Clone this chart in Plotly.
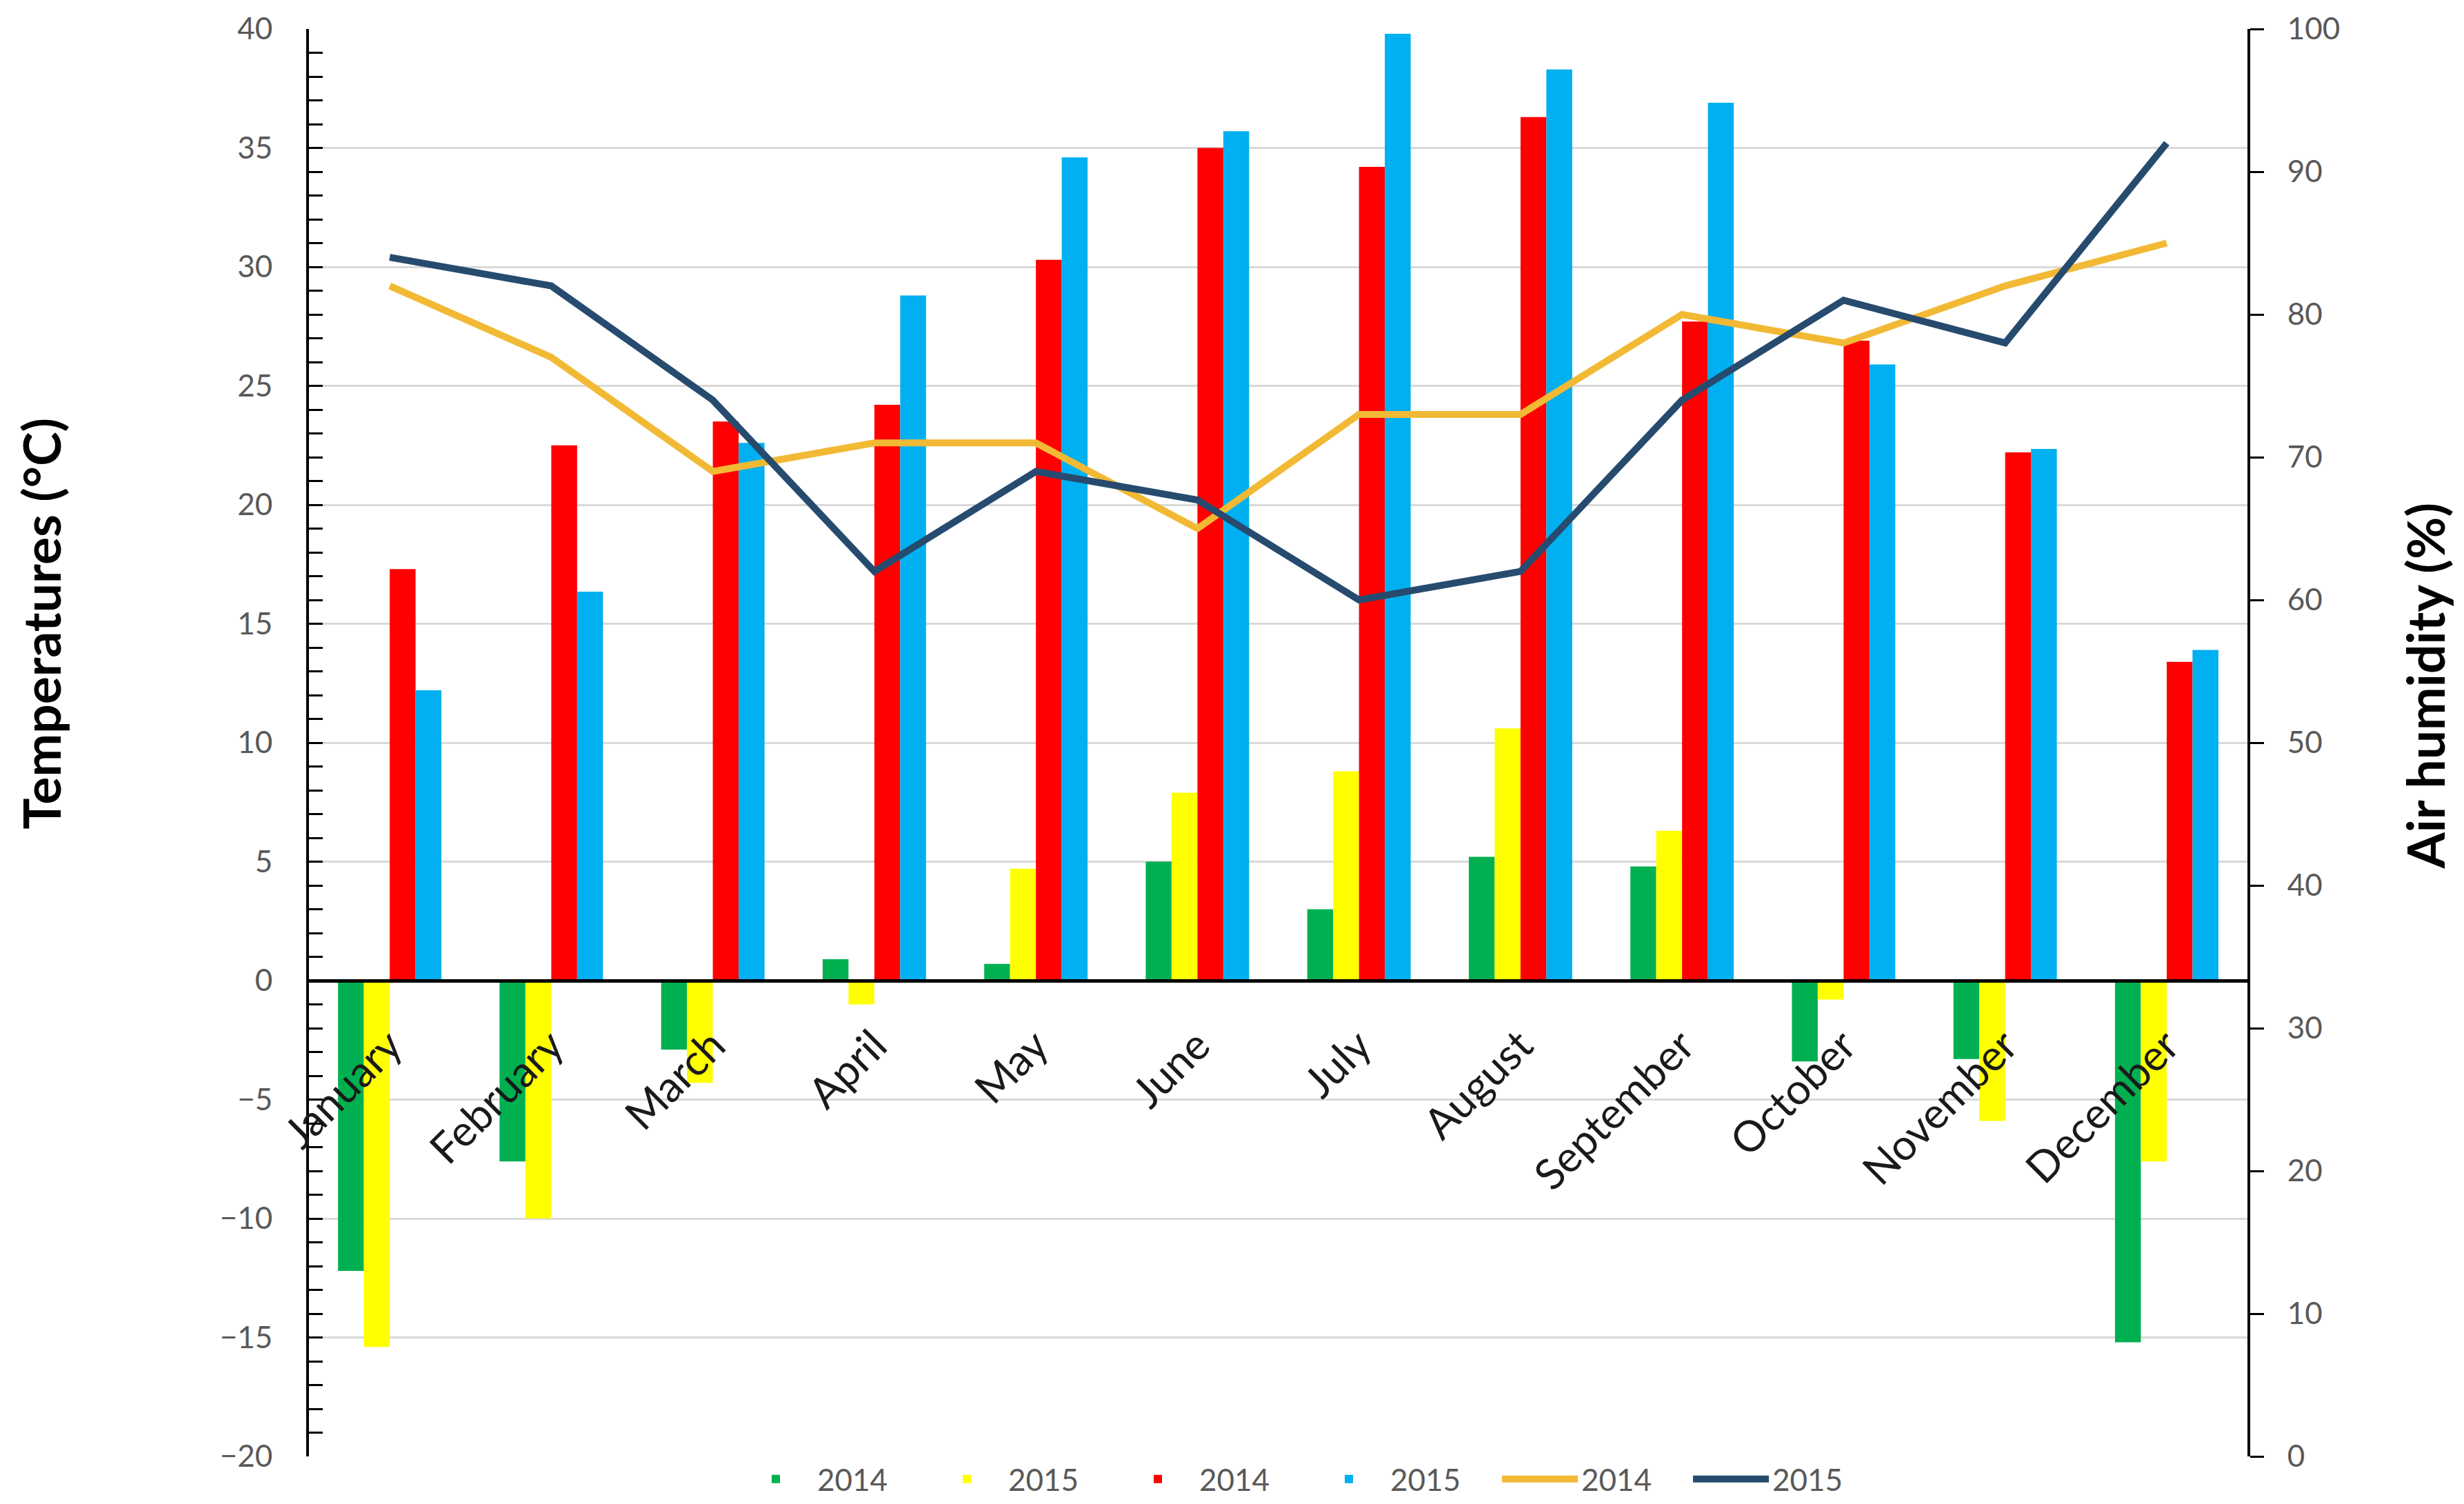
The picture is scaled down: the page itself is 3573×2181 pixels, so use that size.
import plotly.graph_objects as go

months = ["January", "February", "March", "April", "May", "June", "July",
          "August", "September", "October", "November", "December"]

# Bars (temperatures, °C)
tmin_2014 = [-12.2, -7.6, -2.9, 0.9, 0.7, 5.0, 3.0, 5.2, 4.8, -3.4, -3.3, -15.2]
tmin_2015 = [-15.4, -10.0, -4.3, -1.0, 4.7, 7.9, 8.8, 10.6, 6.3, -0.8, -5.9, -7.6]
tmax_2014 = [17.3, 22.5, 23.5, 24.2, 30.3, 35.0, 34.2, 36.3, 27.7, 26.9, 22.2, 13.4]
tmax_2015 = [12.2, 16.35, 22.6, 28.8, 34.6, 35.7, 39.8, 38.3, 36.9, 25.9, 22.35, 13.9]

# Lines (air humidity, %)
hum_2014 = [82, 77, 69, 71, 71, 65, 73, 73, 80, 78, 82, 85]
hum_2015 = [84, 82, 74, 62, 69, 67, 60, 62, 74, 81, 78, 92]

temp_range = [-20, 40]
hum_range = [0, 100]

FONT = "Lato"
GRAY = "#595959"

fig = go.Figure()
for name, vals, color in [("2014", tmin_2014, "#00B050"),
                          ("2015", tmin_2015, "#FFFF00"),
                          ("2014", tmax_2014, "#FF0000"),
                          ("2015", tmax_2015, "#00B0F0")]:
    fig.add_trace(go.Bar(x=months, y=vals, name=name,
                         marker=dict(color=color, line=dict(width=0))))

for name, vals, color in [("2014", hum_2014, "#F2B935"),
                          ("2015", hum_2015, "#264B6E")]:
    fig.add_trace(go.Scatter(x=months, y=vals, name=name, yaxis="y2",
                             mode="lines", line=dict(color=color, width=10)))

zero_pos = (0 - temp_range[0]) / (temp_range[1] - temp_range[0])

title_font = dict(family=FONT, size=75, color="black")

fig.update_layout(
    width=3573, height=2181,
    paper_bgcolor="white", plot_bgcolor="white",
    margin=dict(l=440, r=322, t=34, b=77, autoexpand=False),
    barmode="group", bargap=0.36, bargroupgap=0,
    font=dict(family=FONT, color=GRAY, size=44),
    xaxis=dict(
        anchor="free", position=zero_pos,
        showline=True, linecolor="black", linewidth=5,
        showgrid=False, ticks="", tickangle=-45,
        tickfont=dict(family=FONT, size=62, color="#1a1a1a"),
        ticklabelstandoff=30,
    ),
    yaxis=dict(
        range=temp_range, dtick=5, showline=True, linecolor="black", linewidth=4,
        ticks="inside", ticklen=20, tickwidth=3, tickcolor="black",
        minor=dict(dtick=1, ticks="inside", ticklen=20, tickwidth=3,
                   tickcolor="black", showgrid=False),
        showgrid=True, gridcolor="#d9d9d9", gridwidth=3, zeroline=False,
        tickfont=dict(family=FONT, size=44, color=GRAY),
        ticklabelstandoff=40,
    ),
    yaxis2=dict(
        range=hum_range, dtick=10, overlaying="y", side="right",
        showline=True, linecolor="black", linewidth=4,
        ticks="outside", ticklen=20, tickwidth=3, tickcolor="black",
        showgrid=False, zeroline=False,
        tickfont=dict(family=FONT, size=44, color=GRAY),
        ticklabelstandoff=25,
    ),
    legend=dict(orientation="h", x=0.2195, xanchor="left", y=-0.016, yanchor="middle",
                itemwidth=110, entrywidth=152, entrywidthmode="pixels",
                font=dict(family=FONT, size=44, color=GRAY),
                bgcolor="rgba(0,0,0,0)"),
    annotations=[
        dict(text="<b>Temperatures (°C)</b>", xref="paper", yref="paper",
             x=-0.1385, y=0.5836, textangle=-90, showarrow=False,
             xanchor="center", yanchor="middle", font=title_font),
        dict(text="<b>Air humidity (%)</b>", xref="paper", yref="paper",
             x=1.0915, y=0.5396, textangle=-90, showarrow=False,
             xanchor="center", yanchor="middle", font=title_font),
    ],
)

fig.write_html("out.html")
